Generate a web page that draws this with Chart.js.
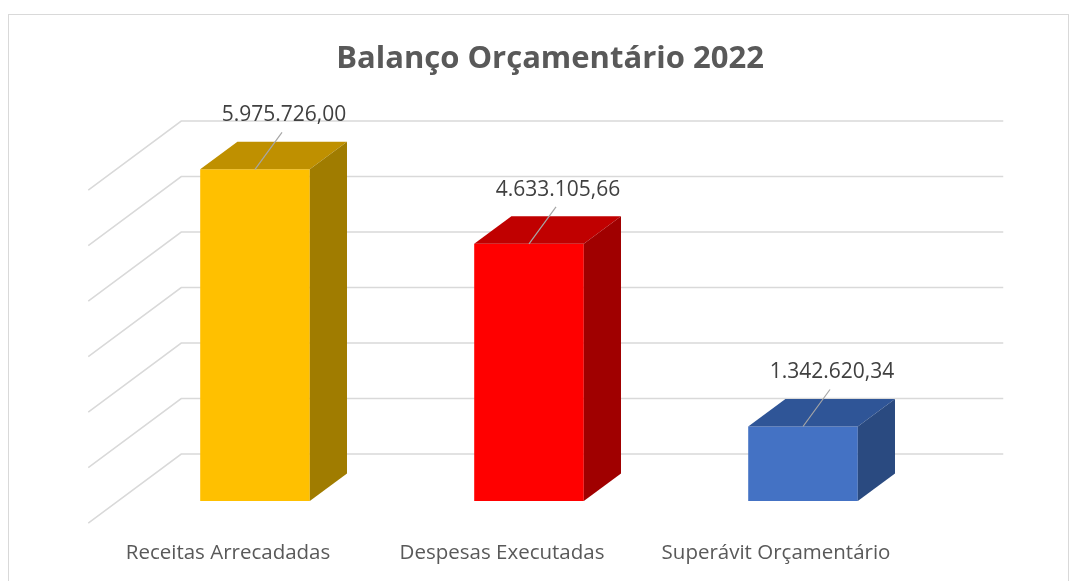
<!DOCTYPE html>
<html lang="pt">
<head>
    <meta charset="UTF-8">
    <title>Balanço Orçamentário 2022</title>
    <script src="https://cdn.jsdelivr.net/npm/chart.js"></script>
    <style>
        body { margin: 0; background: #fff; }
        #wrap { width: 1077px; height: 581px; position: relative; }
    </style>
</head>
<body>
    <div id="wrap">
        <canvas id="balanco" width="1077" height="581"></canvas>
    </div>
    <script>
        // dados do gráfico
        const titulo = 'Balanço Orçamentário 2022';
        const categorias = ['Receitas Arrecadadas', 'Despesas Executadas', 'Superávit Orçamentário'];
        const valores = [5975726.00, 4633105.66, 1342620.34];
        const rotulos = ['5.975.726,00', '4.633.105,66', '1.342.620,34'];
        const eixoMax = 6000000;

        // cores: frente, topo, lado
        const corFrente = ['#FFC000', '#FF0000', '#4472C4'];
        const corTopo = ['#BF9000', '#C00000', '#2F5597'];
        const corLado = ['#A07C00', '#A00000', '#2A4A80'];

        // profundidade do "3D" (piso inteiro) e posição das barras nele
        const prof = { x: 93, y: -69 };
        const frenteBarra = 0.32;
        const profBarra = 0.4;

        const fonte = '"Open Sans", Lato, sans-serif';

        const efeito3d = {
            id: 'efeito3d',
            beforeDatasetsDraw(chart) {
                const ctx = chart.ctx;
                const area = chart.chartArea;
                const y = chart.scales.y;
                const fundo = { x: prof.x * (1 - frenteBarra), y: prof.y * (1 - frenteBarra) };
                const frente = { x: -prof.x * frenteBarra, y: -prof.y * frenteBarra };
                ctx.save();
                // moldura
                ctx.strokeStyle = '#D9D9D9';
                ctx.lineWidth = 1;
                ctx.strokeRect(8.5, 14.5, 1060, 580);
                // título
                ctx.fillStyle = '#595959';
                ctx.font = 'bold 31px ' + fonte;
                ctx.textAlign = 'center';
                ctx.textBaseline = 'middle';
                ctx.fillText(titulo, 550, 59);
                // grade da parede do fundo e parede lateral
                ctx.strokeStyle = '#D9D9D9';
                ctx.lineWidth = 1.5;
                y.ticks.forEach(t => {
                    const py = y.getPixelForValue(t.value);
                    ctx.beginPath();
                    ctx.moveTo(area.left + frente.x, py + frente.y);
                    ctx.lineTo(area.left + fundo.x, py + fundo.y);
                    ctx.lineTo(area.right + fundo.x, py + fundo.y);
                    ctx.stroke();
                });
                ctx.restore();
            },
            afterDatasetsDraw(chart) {
                const ctx = chart.ctx;
                const meta = chart.getDatasetMeta(0);
                const dx = prof.x * profBarra, dy = prof.y * profBarra;
                ctx.save();
                meta.data.forEach((bar, i) => {
                    const l = bar.x - bar.width / 2, r = bar.x + bar.width / 2;
                    const t = bar.y, b = bar.base;
                    // topo
                    ctx.fillStyle = corTopo[i];
                    ctx.beginPath();
                    ctx.moveTo(l, t);
                    ctx.lineTo(l + dx, t + dy);
                    ctx.lineTo(r + dx, t + dy);
                    ctx.lineTo(r, t);
                    ctx.closePath();
                    ctx.fill();
                    // lado
                    ctx.fillStyle = corLado[i];
                    ctx.beginPath();
                    ctx.moveTo(r, t);
                    ctx.lineTo(r + dx, t + dy);
                    ctx.lineTo(r + dx, b + dy);
                    ctx.lineTo(r, b);
                    ctx.closePath();
                    ctx.fill();
                });
                ctx.restore();
            },
            afterDraw(chart) {
                const ctx = chart.ctx;
                const meta = chart.getDatasetMeta(0);
                const x = chart.scales.x;
                const area = chart.chartArea;
                ctx.save();
                // rótulos de dados com linha guia
                meta.data.forEach((bar, i) => {
                    ctx.strokeStyle = '#A6A6A6';
                    ctx.lineWidth = 1.2;
                    ctx.beginPath();
                    ctx.moveTo(bar.x, bar.y);
                    ctx.lineTo(bar.x + 27, bar.y - 37);
                    ctx.stroke();
                    ctx.fillStyle = '#404040';
                    ctx.font = '21px ' + fonte;
                    ctx.textAlign = 'center';
                    ctx.textBaseline = 'middle';
                    ctx.fillText(rotulos[i], bar.x + 29, bar.y - 54);
                });
                // categorias
                ctx.fillStyle = '#595959';
                ctx.font = '20.5px ' + fonte;
                ctx.textAlign = 'center';
                ctx.textBaseline = 'middle';
                categorias.forEach((c, i) => {
                    ctx.fillText(c, x.getPixelForValue(i) - 27, area.bottom + 52);
                });
                ctx.restore();
            }
        };

        new Chart(document.getElementById('balanco'), {
            type: 'bar',
            data: {
                labels: categorias,
                datasets: [{
                    data: valores,
                    backgroundColor: corFrente,
                    borderWidth: 0,
                    barPercentage: 0.4,
                    categoryPercentage: 1
                }]
            },
            options: {
                responsive: false,
                animation: false,
                layout: { padding: { left: 118, right: 137, top: 168, bottom: 80 } },
                scales: {
                    x: { display: false },
                    y: {
                        display: false,
                        min: 0,
                        max: eixoMax,
                        ticks: { stepSize: 1000000 }
                    }
                },
                plugins: {
                    legend: { display: false },
                    tooltip: { enabled: false },
                    title: { display: false }
                }
            },
            plugins: [efeito3d]
        });
    </script>
</body>
</html>
